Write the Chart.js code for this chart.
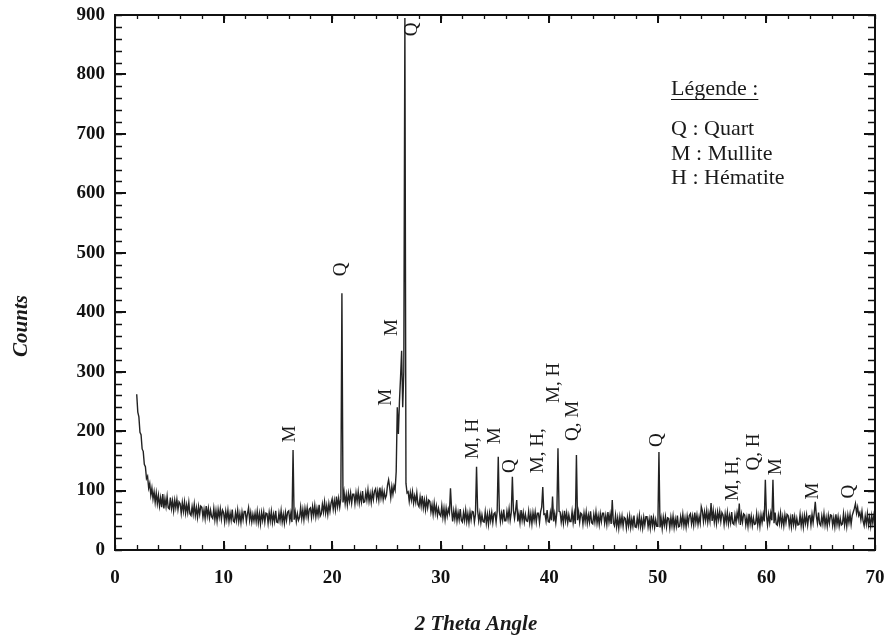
<!DOCTYPE html>
<html><head><meta charset="utf-8">
<script src="https://cdn.jsdelivr.net/npm/chart.js@4.4.1/dist/chart.umd.min.js"></script>
<style>html,body{margin:0;padding:0;background:#fff;}canvas{display:block;}</style>
</head><body>
<canvas id="c" width="886" height="639"></canvas>
<script>
// Sampling grid of the diffractogram (degrees 2θ)
const ANGLE_START = 2.0;
const ANGLE_STEP = 0.1;
// Counts, one row per degree (d.0 ... d.9), starting at 2°
const countRows = [
  [262,232,224,198,194,170,166,144,140,120], // 2
  [124,104,112,92,104,86,98,80,96,78],        // 3
  [92,74,88,72,94,70,86,73,90,71],            // 4
  [69,88,70,83,66,84,71,85,68,81],            // 5
  [78,62,80,65,81,62,76,63,80,61],            // 6
  [58,73,60,77,58,71,55,73,60,74],            // 7
  [72,55,68,53,74,57,70,54,67,56],            // 8
  [53,70,51,66,49,68,55,69,52,67],            // 9
  [63,47,65,51,67,48,62,50,68,49],            // 10
  [47,63,50,67,48,61,46,64,51,65],            // 11
  [65,48,61,71,50,63,47,60,49,62],            // 12
  [48,65,46,61,44,63,50,64,47,62],            // 13
  [61,45,63,49,65,46,60,48,66,47],            // 14
  [46,62,49,66,47,60,45,63,50,64],            // 15
  [66,49,62,47,168,51,64,48,61,50],           // 16
  [55,72,53,68,51,70,57,71,54,69],            // 17
  [71,55,73,59,75,56,70,58,76,57],            // 18
  [61,77,64,81,62,75,60,78,65,79],            // 19
  [86,69,83,68,90,73,87,72,86,432],           // 20
  [80,97,78,93,76,95,82,96,79,94],            // 21
  [94,78,96,82,98,79,93,81,99,80],            // 22
  [81,97,84,101,82,95,80,98,85,99],           // 23
  [103,86,99,84,105,88,101,85,98,87],         // 24
  [92,109,118,105,88,107,94,108,101,132],     // 25
  [240,195,250,290,335,240,300,895,112,96],   // 26
  [98,82,97,84,98,79,91,80,96,77],            // 27
  [73,89,74,91,71,84,68,85,71,84],            // 28
  [82,64,76,60,79,62,74,58,70,60],            // 29
  [57,74,55,70,52,70,57,69,62,104],           // 30
  [68,48,66,52,68,49,63,51,69,50],            // 31
  [47,63,50,67,48,61,46,64,51,65],            // 32
  [64,47,60,140,66,49,62,46,59,48],           // 33
  [47,64,45,60,43,62,49,63,46,61],            // 34
  [63,47,65,157,67,48,62,50,68,49],           // 35
  [49,65,52,69,50,63,123,66,53,67],           // 36
  [84,48,61,46,67,50,63,47,60,49],            // 37
  [48,65,46,61,44,63,50,64,47,62],            // 38
  [62,46,64,72,106,60,61,49,67,48],           // 39
  [47,63,50,90,48,61,46,64,171,65],           // 40
  [64,47,60,45,66,49,62,46,59,48],            // 41
  [48,65,46,61,44,160,50,64,47,62],           // 42
  [60,44,62,48,64,45,59,47,65,46],            // 43
  [44,60,47,64,45,58,43,61,48,62],            // 44
  [62,45,58,43,64,47,60,44,84,46],            // 45
  [41,58,39,54,37,56,43,57,40,55],            // 46
  [53,37,55,41,57,38,52,40,58,39],            // 47
  [38,54,41,58,39,52,37,55,42,56],            // 48
  [56,39,52,37,58,41,54,38,51,40],            // 49
  [40,165,38,53,36,55,42,56,39,54],           // 50
  [53,37,55,41,57,38,52,40,58,39],            // 51
  [40,56,43,60,41,54,39,57,44,58],            // 52
  [61,44,57,42,63,46,59,43,56,45],            // 53
  [73,66,48,64,50,66,47,62,49,79],            // 54
  [49,66,47,62,45,64,51,65,48,63],            // 55
  [59,43,61,47,63,44,58,46,64,45],            // 56
  [43,59,46,63,52,78,42,60,47,61],            // 57
  [59,42,55,40,61,44,57,41,54,43],            // 58
  [44,61,42,57,40,59,46,60,48,118],           // 59
  [58,42,60,46,62,50,118,45,63,44],           // 60
  [42,58,45,62,43,56,41,59,46,60],            // 61
  [58,41,54,39,60,43,56,40,53,42],            // 62
  [43,60,41,56,39,58,45,59,42,57],            // 63
  [58,42,60,46,62,81,57,45,63,44],            // 64
  [41,57,44,61,42,55,40,58,45,59],            // 65
  [58,41,54,39,60,43,56,40,53,42],            // 66
  [44,61,42,57,40,59,46,60,43,58],            // 67
  [64,70,78,62,72,58,63,51,65,49],            // 68
  [41,57,44,61,42,55,40,58,45,59],            // 69
  [48]                                        // 70
];

const xTickValues = [0,10,20,30,40,50,60,70];
const yTickValues = [0,100,200,300,400,500,600,700,800,900];

// Phase annotations above peaks
const peakLabels      = ["M","Q","M","M","Q","M, H","M","Q","M, H,","M, H","Q, M","Q","M, H,","Q, H","M","M","Q"];
const peakLabelAngles = [16.07,20.72,24.91,25.40,27.31,32.84,34.91,36.29,38.87,40.34,42.09,49.83,56.84,58.72,60.79,64.24,67.47];
const peakLabelCounts = [195,472,257,374,876,187,192,141,167,281,217,185,120,165,140,99,98];

const legendTitle = "Légende :";
const legendLines = ["Q : Quart","M : Mullite","H : Hématite"];
const xTitle = "2 Theta Angle";
const yTitle = "Counts";

// build points
const points = [];
countRows.forEach((row, r) => {
  row.forEach((v, i) => {
    const idx = r * 10 + i;
    points.push({x: Math.round((ANGLE_START + idx * ANGLE_STEP) * 10) / 10, y: v});
  });
});

const SERIF = '"Liberation Serif","DejaVu Serif",serif';

const decor = {
  id: 'decor',
  afterDraw(chart) {
    const {ctx, chartArea: ca, scales: {x, y}} = chart;
    ctx.save();
    // frame
    ctx.strokeStyle = '#111';
    ctx.lineWidth = 2;
    ctx.strokeRect(ca.left, ca.top, ca.right - ca.left, ca.bottom - ca.top);
    // minor ticks
    ctx.lineWidth = 1.3;
    ctx.beginPath();
    for (let v = 0; v <= 70; v += 2) {
      const px = Math.round(x.getPixelForValue(v)) + 0.5;
      ctx.moveTo(px, ca.bottom); ctx.lineTo(px, ca.bottom - 5);
      ctx.moveTo(px, ca.top); ctx.lineTo(px, ca.top + 4);
    }
    for (let v = 0; v <= 900; v += 20) {
      const py = Math.round(y.getPixelForValue(v)) + 0.5;
      ctx.moveTo(ca.left, py); ctx.lineTo(ca.left + 7, py);
      ctx.moveTo(ca.right, py); ctx.lineTo(ca.right - 7, py);
    }
    ctx.stroke();
    // major ticks
    ctx.lineWidth = 2;
    ctx.beginPath();
    yTickValues.forEach(v => {
      const py = Math.round(y.getPixelForValue(v));
      ctx.moveTo(ca.left, py); ctx.lineTo(ca.left + 11, py);
      ctx.moveTo(ca.right, py); ctx.lineTo(ca.right - 11, py);
    });
    xTickValues.forEach(v => {
      const px = Math.round(x.getPixelForValue(v));
      ctx.moveTo(px, ca.bottom); ctx.lineTo(px, ca.bottom - 9);
      ctx.moveTo(px, ca.top); ctx.lineTo(px, ca.top + 8);
    });
    ctx.stroke();

    // peak labels (rotated)
    ctx.fillStyle = '#1a1a1a';
    ctx.font = '19px ' + SERIF;
    ctx.textAlign = 'center';
    ctx.textBaseline = 'middle';
    peakLabels.forEach((t, i) => {
      const px = x.getPixelForValue(peakLabelAngles[i]);
      const py = y.getPixelForValue(peakLabelCounts[i]);
      ctx.save();
      ctx.translate(px, py);
      ctx.rotate(-Math.PI / 2);
      ctx.fillText(t, 0, 1);
      ctx.restore();
    });

    // legend
    ctx.textAlign = 'left';
    ctx.textBaseline = 'alphabetic';
    ctx.font = '22px ' + SERIF;
    const lx = ca.left + 556;
    ctx.fillText(legendTitle, lx, ca.top + 80);
    const w = ctx.measureText(legendTitle).width;
    ctx.lineWidth = 1.2;
    ctx.beginPath();
    ctx.moveTo(lx, ca.top + 84.5); ctx.lineTo(lx + w, ca.top + 84.5);
    ctx.stroke();
    legendLines.forEach((t, i) => {
      ctx.fillText(t, lx, ca.top + 120 + i * 24.5);
    });

    // axis titles
    ctx.font = 'italic bold 21px ' + SERIF;
    ctx.textAlign = 'center';
    ctx.textBaseline = 'middle';
    ctx.fillText(xTitle, 476, 625);
    ctx.save();
    ctx.translate(22, 326);
    ctx.rotate(-Math.PI / 2);
    ctx.fillText(yTitle, 0, 0);
    ctx.restore();
    ctx.restore();
  }
};

new Chart(document.getElementById('c'), {
  type: 'line',
  data: {
    datasets: [{
      data: points,
      borderColor: '#222',
      borderWidth: 1.4,
      pointRadius: 0,
      tension: 0,
      fill: false
    }]
  },
  options: {
    responsive: false,
    animation: false,
    devicePixelRatio: 1,
    layout: {padding: {left: 0, right: 11, top: 15, bottom: 0}},
    plugins: {legend: {display: false}, tooltip: {enabled: false}},
    scales: {
      x: {
        type: 'linear', min: 0, max: 70,
        afterBuildTicks(s) { s.ticks = xTickValues.map(v => ({value: v})); },
        afterFit(s) { s.height = 89; s.paddingLeft = 0; s.paddingRight = 0; },
        grid: {display: false, drawTicks: false}, border: {display: false},
        ticks: {color: '#111', padding: 17, maxRotation: 0, font: {family: SERIF, size: 19, weight: 'bold'}}
      },
      y: {
        type: 'linear', min: 0, max: 900,
        afterBuildTicks(s) { s.ticks = yTickValues.map(v => ({value: v})); },
        afterFit(s) { s.width = 115; s.paddingTop = 0; s.paddingBottom = 0; },
        grid: {display: false, drawTicks: false}, border: {display: false},
        ticks: {color: '#111', padding: 10, font: {family: SERIF, size: 19, weight: 'bold'}}
      }
    }
  },
  plugins: [decor]
});
</script>
</body></html>
